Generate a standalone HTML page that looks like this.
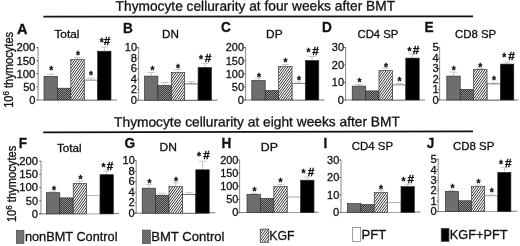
<!DOCTYPE html>
<html><head><meta charset="utf-8"><title>Thymocyte cellularity after BMT</title>
<style>
html,body{margin:0;padding:0;background:#fff;}
body{width:520px;height:246px;overflow:hidden;}
svg{display:block;font-family:"Liberation Sans", Arial, sans-serif;}
text{stroke:#111;stroke-width:0.3px;}
</style></head><body>
<svg width="520" height="246" viewBox="0 0 520 246">
<defs>
<pattern id="xh2" width="2" height="2" patternUnits="userSpaceOnUse">
<rect width="2" height="2" fill="#5a5a5a"/><rect width="1" height="1" fill="#7e7e7e"/><rect x="1" y="1" width="1" height="1" fill="#7e7e7e"/>
</pattern>
<pattern id="xh" width="2" height="2" patternUnits="userSpaceOnUse">
<rect width="2" height="2" fill="#3c3c3c"/><rect width="1" height="1" fill="#8a8a8a"/><rect x="1" y="1" width="1" height="1" fill="#8a8a8a"/>
</pattern>
</defs>
<rect width="520" height="246" fill="#fff"/>

<text x="115.60" y="10.80" font-size="13.8" text-anchor="start" font-weight="normal" fill="#111" textLength="279.50" lengthAdjust="spacingAndGlyphs" transform="rotate(-0.08 115.3 10.8)">Thymocyte cellurarity at four weeks after BMT</text>
<line x1="43.40" y1="16.60" x2="473.00" y2="16.30" stroke="#111" stroke-width="1.8"/>
<text x="114.10" y="126.70" font-size="13.7" text-anchor="start" font-weight="normal" fill="#111" textLength="285.80" lengthAdjust="spacingAndGlyphs" transform="rotate(-0.1 114.1 126.7)">Thymocyte cellurarity at eight weeks after BMT</text>
<line x1="43.20" y1="132.30" x2="473.00" y2="131.40" stroke="#111" stroke-width="1.8"/>
<text transform="translate(12.70,107.80) rotate(-90) scale(0.9250,1)" font-size="12" fill="#111">10<tspan font-size="8.6" dy="-3.6">6</tspan><tspan dy="3.6"> thymocytes</tspan></text>
<text transform="translate(16.00,222.10) rotate(-90) scale(0.9300,1)" font-size="12" fill="#111">10<tspan font-size="8.6" dy="-3.6">6</tspan><tspan dy="3.6"> thymocytes</tspan></text>
<text x="17.00" y="33.50" font-size="14.5" text-anchor="start" font-weight="bold" fill="#111" textLength="10.47" lengthAdjust="spacingAndGlyphs">A</text>
<text x="54.40" y="38.20" font-size="11.2" text-anchor="start" font-weight="normal" fill="#111" textLength="25.00" lengthAdjust="spacingAndGlyphs">Total</text>
<line x1="38.10" y1="47.10" x2="38.10" y2="100.00" stroke="#929292" stroke-width="1.1"/>
<line x1="37.00" y1="100.00" x2="117.00" y2="100.00" stroke="#7a7a7a" stroke-width="1"/>
<line x1="90.90" y1="80.10" x2="90.90" y2="78.10" stroke="#b8b8b8" stroke-width="0.75"/>
<line x1="87.30" y1="78.10" x2="94.50" y2="78.10" stroke="#b8b8b8" stroke-width="0.75"/>
<rect x="84.20" y="80.10" width="13.40" height="19.90" fill="#fff" stroke="#555" stroke-width="0.7"/>
<line x1="50.70" y1="76.40" x2="50.70" y2="74.10" stroke="#b8b8b8" stroke-width="0.75"/>
<line x1="47.10" y1="74.10" x2="54.30" y2="74.10" stroke="#b8b8b8" stroke-width="0.75"/>
<rect x="44.00" y="76.40" width="13.40" height="23.60" fill="#6e6e6e" stroke="#2b2b2b" stroke-width="0.65"/>
<rect x="57.40" y="88.20" width="13.40" height="11.80" fill="url(#xh)" stroke="#2b2b2b" stroke-width="0.65"/>
<line x1="77.50" y1="59.60" x2="77.50" y2="57.50" stroke="#b8b8b8" stroke-width="0.75"/>
<line x1="73.90" y1="57.50" x2="81.10" y2="57.50" stroke="#b8b8b8" stroke-width="0.75"/>
<clipPath id="c1"><rect x="70.80" y="59.60" width="13.40" height="40.40"/></clipPath>
<rect x="70.80" y="59.60" width="13.40" height="40.40" fill="#fff"/>
<path d="M38.40 100.00L67.75 59.60M40.80 100.00L70.15 59.60M43.20 100.00L72.55 59.60M45.60 100.00L74.95 59.60M48.00 100.00L77.35 59.60M50.40 100.00L79.75 59.60M52.80 100.00L82.15 59.60M55.20 100.00L84.55 59.60M57.60 100.00L86.95 59.60M60.00 100.00L89.35 59.60M62.40 100.00L91.75 59.60M64.80 100.00L94.15 59.60M67.20 100.00L96.55 59.60M69.60 100.00L98.95 59.60M72.00 100.00L101.35 59.60M74.40 100.00L103.75 59.60M76.80 100.00L106.15 59.60M79.20 100.00L108.55 59.60M81.60 100.00L110.95 59.60M84.00 100.00L113.35 59.60M86.40 100.00L115.75 59.60" stroke="#2a2a2a" stroke-width="0.95" fill="none" clip-path="url(#c1)"/>
<rect x="70.80" y="59.60" width="13.40" height="40.40" fill="none" stroke="#2b2b2b" stroke-width="0.65"/>
<line x1="104.30" y1="51.20" x2="104.30" y2="47.20" stroke="#b8b8b8" stroke-width="0.75"/>
<line x1="100.70" y1="47.20" x2="107.90" y2="47.20" stroke="#b8b8b8" stroke-width="0.75"/>
<rect x="97.60" y="51.20" width="13.40" height="48.80" fill="#000" stroke="#2b2b2b" stroke-width="0.65"/>
<line x1="36.40" y1="100.00" x2="38.10" y2="100.00" stroke="#555" stroke-width="0.9"/>
<text x="35.40" y="103.80" font-size="11.8" text-anchor="end" font-weight="normal" fill="#111" textLength="6.20" lengthAdjust="spacingAndGlyphs">0</text>
<line x1="36.40" y1="86.90" x2="38.10" y2="86.90" stroke="#555" stroke-width="0.9"/>
<text x="35.40" y="90.70" font-size="11.8" text-anchor="end" font-weight="normal" fill="#111" textLength="12.20" lengthAdjust="spacingAndGlyphs">50</text>
<line x1="36.40" y1="73.80" x2="38.10" y2="73.80" stroke="#555" stroke-width="0.9"/>
<text x="35.40" y="77.60" font-size="11.8" text-anchor="end" font-weight="normal" fill="#111" textLength="19.00" lengthAdjust="spacingAndGlyphs">100</text>
<line x1="36.40" y1="60.70" x2="38.10" y2="60.70" stroke="#555" stroke-width="0.9"/>
<text x="35.40" y="64.50" font-size="11.8" text-anchor="end" font-weight="normal" fill="#111" textLength="19.00" lengthAdjust="spacingAndGlyphs">150</text>
<line x1="36.40" y1="47.60" x2="38.10" y2="47.60" stroke="#555" stroke-width="0.9"/>
<text x="35.40" y="51.40" font-size="11.8" text-anchor="end" font-weight="normal" fill="#111" textLength="19.00" lengthAdjust="spacingAndGlyphs">200</text>
<text x="51.20" y="74.30" font-size="10.2" text-anchor="middle" font-weight="bold" fill="#111">*</text>
<text x="78.00" y="59.00" font-size="10.2" text-anchor="middle" font-weight="bold" fill="#111">*</text>
<text x="91.00" y="79.10" font-size="10.2" text-anchor="middle" font-weight="bold" fill="#111">*</text>
<text x="101.80" y="45.90" font-size="10.2" text-anchor="middle" font-weight="bold" fill="#111">*</text>
<text x="107.00" y="45.01" font-size="11.8" text-anchor="middle" font-weight="bold" fill="#111">#</text>
<text x="122.90" y="32.90" font-size="14.5" text-anchor="start" font-weight="bold" fill="#111" textLength="9.84" lengthAdjust="spacingAndGlyphs">B</text>
<text x="162.10" y="38.20" font-size="11.2" text-anchor="start" font-weight="normal" fill="#111" textLength="16.90" lengthAdjust="spacingAndGlyphs">DN</text>
<line x1="138.60" y1="47.10" x2="138.60" y2="100.20" stroke="#929292" stroke-width="1.1"/>
<line x1="137.60" y1="100.20" x2="217.60" y2="100.20" stroke="#7a7a7a" stroke-width="1"/>
<line x1="191.40" y1="83.90" x2="191.40" y2="81.70" stroke="#b8b8b8" stroke-width="0.75"/>
<line x1="187.80" y1="81.70" x2="195.00" y2="81.70" stroke="#b8b8b8" stroke-width="0.75"/>
<rect x="184.70" y="83.90" width="13.40" height="16.30" fill="#fff" stroke="#333" stroke-width="0.7"/>
<line x1="151.20" y1="76.10" x2="151.20" y2="72.50" stroke="#b8b8b8" stroke-width="0.75"/>
<line x1="147.60" y1="72.50" x2="154.80" y2="72.50" stroke="#b8b8b8" stroke-width="0.75"/>
<rect x="144.50" y="76.10" width="13.40" height="24.10" fill="#6e6e6e" stroke="#2b2b2b" stroke-width="0.65"/>
<line x1="164.60" y1="85.50" x2="164.60" y2="82.50" stroke="#b8b8b8" stroke-width="0.75"/>
<line x1="161.00" y1="82.50" x2="168.20" y2="82.50" stroke="#b8b8b8" stroke-width="0.75"/>
<rect x="157.90" y="85.50" width="13.40" height="14.70" fill="url(#xh)" stroke="#2b2b2b" stroke-width="0.65"/>
<line x1="178.00" y1="72.50" x2="178.00" y2="69.50" stroke="#b8b8b8" stroke-width="0.75"/>
<line x1="174.40" y1="69.50" x2="181.60" y2="69.50" stroke="#b8b8b8" stroke-width="0.75"/>
<clipPath id="c2"><rect x="171.30" y="72.50" width="13.40" height="27.70"/></clipPath>
<rect x="171.30" y="72.50" width="13.40" height="27.70" fill="#fff"/>
<path d="M146.40 100.20L166.53 72.50M148.80 100.20L168.93 72.50M151.20 100.20L171.33 72.50M153.60 100.20L173.73 72.50M156.00 100.20L176.13 72.50M158.40 100.20L178.53 72.50M160.80 100.20L180.93 72.50M163.20 100.20L183.33 72.50M165.60 100.20L185.73 72.50M168.00 100.20L188.13 72.50M170.40 100.20L190.53 72.50M172.80 100.20L192.93 72.50M175.20 100.20L195.33 72.50M177.60 100.20L197.73 72.50M180.00 100.20L200.13 72.50M182.40 100.20L202.53 72.50M184.80 100.20L204.93 72.50" stroke="#2a2a2a" stroke-width="0.95" fill="none" clip-path="url(#c2)"/>
<rect x="171.30" y="72.50" width="13.40" height="27.70" fill="none" stroke="#2b2b2b" stroke-width="0.65"/>
<line x1="204.80" y1="67.50" x2="204.80" y2="63.50" stroke="#b8b8b8" stroke-width="0.75"/>
<line x1="201.20" y1="63.50" x2="208.40" y2="63.50" stroke="#b8b8b8" stroke-width="0.75"/>
<rect x="198.10" y="67.50" width="13.40" height="32.70" fill="#000" stroke="#2b2b2b" stroke-width="0.65"/>
<line x1="136.90" y1="100.20" x2="138.60" y2="100.20" stroke="#555" stroke-width="0.9"/>
<text x="137.00" y="104.00" font-size="11.8" text-anchor="end" font-weight="normal" fill="#111" textLength="6.20" lengthAdjust="spacingAndGlyphs">0</text>
<line x1="136.90" y1="89.68" x2="138.60" y2="89.68" stroke="#555" stroke-width="0.9"/>
<text x="137.00" y="93.48" font-size="11.8" text-anchor="end" font-weight="normal" fill="#111" textLength="6.20" lengthAdjust="spacingAndGlyphs">2</text>
<line x1="136.90" y1="79.16" x2="138.60" y2="79.16" stroke="#555" stroke-width="0.9"/>
<text x="137.00" y="82.96" font-size="11.8" text-anchor="end" font-weight="normal" fill="#111" textLength="6.20" lengthAdjust="spacingAndGlyphs">4</text>
<line x1="136.90" y1="68.64" x2="138.60" y2="68.64" stroke="#555" stroke-width="0.9"/>
<text x="137.00" y="72.44" font-size="11.8" text-anchor="end" font-weight="normal" fill="#111" textLength="6.20" lengthAdjust="spacingAndGlyphs">6</text>
<line x1="136.90" y1="58.12" x2="138.60" y2="58.12" stroke="#555" stroke-width="0.9"/>
<text x="137.00" y="61.92" font-size="11.8" text-anchor="end" font-weight="normal" fill="#111" textLength="6.20" lengthAdjust="spacingAndGlyphs">8</text>
<line x1="136.90" y1="47.60" x2="138.60" y2="47.60" stroke="#555" stroke-width="0.9"/>
<text x="137.00" y="51.40" font-size="11.8" text-anchor="end" font-weight="normal" fill="#111" textLength="12.20" lengthAdjust="spacingAndGlyphs">10</text>
<text x="152.60" y="74.10" font-size="10.2" text-anchor="middle" font-weight="bold" fill="#111">*</text>
<text x="178.00" y="71.50" font-size="10.2" text-anchor="middle" font-weight="bold" fill="#111">*</text>
<text x="201.00" y="63.10" font-size="10.2" text-anchor="middle" font-weight="bold" fill="#111">*</text>
<text x="208.00" y="62.01" font-size="11.8" text-anchor="middle" font-weight="bold" fill="#111">#</text>
<text x="221.00" y="31.90" font-size="14.5" text-anchor="start" font-weight="bold" fill="#111" textLength="9.84" lengthAdjust="spacingAndGlyphs">C</text>
<text x="266.10" y="38.20" font-size="11.2" text-anchor="start" font-weight="normal" fill="#111" textLength="16.60" lengthAdjust="spacingAndGlyphs">DP</text>
<line x1="245.60" y1="47.10" x2="245.60" y2="100.00" stroke="#929292" stroke-width="1.1"/>
<line x1="244.40" y1="100.00" x2="324.40" y2="100.00" stroke="#7a7a7a" stroke-width="1"/>
<line x1="298.70" y1="83.50" x2="298.70" y2="82.10" stroke="#b8b8b8" stroke-width="0.75"/>
<line x1="295.10" y1="82.10" x2="302.30" y2="82.10" stroke="#b8b8b8" stroke-width="0.75"/>
<rect x="292.00" y="83.50" width="13.40" height="16.50" fill="#fff" stroke="#555" stroke-width="0.7"/>
<line x1="258.50" y1="80.50" x2="258.50" y2="78.10" stroke="#b8b8b8" stroke-width="0.75"/>
<line x1="254.90" y1="78.10" x2="262.10" y2="78.10" stroke="#b8b8b8" stroke-width="0.75"/>
<rect x="251.80" y="80.50" width="13.40" height="19.50" fill="#6e6e6e" stroke="#2b2b2b" stroke-width="0.65"/>
<rect x="265.20" y="90.50" width="13.40" height="9.50" fill="url(#xh)" stroke="#2b2b2b" stroke-width="0.65"/>
<line x1="285.30" y1="66.50" x2="285.30" y2="64.50" stroke="#b8b8b8" stroke-width="0.75"/>
<line x1="281.70" y1="64.50" x2="288.90" y2="64.50" stroke="#b8b8b8" stroke-width="0.75"/>
<clipPath id="c3"><rect x="278.60" y="66.50" width="13.40" height="33.50"/></clipPath>
<rect x="278.60" y="66.50" width="13.40" height="33.50" fill="#fff"/>
<path d="M249.60 100.00L273.94 66.50M252.00 100.00L276.34 66.50M254.40 100.00L278.74 66.50M256.80 100.00L281.14 66.50M259.20 100.00L283.54 66.50M261.60 100.00L285.94 66.50M264.00 100.00L288.34 66.50M266.40 100.00L290.74 66.50M268.80 100.00L293.14 66.50M271.20 100.00L295.54 66.50M273.60 100.00L297.94 66.50M276.00 100.00L300.34 66.50M278.40 100.00L302.74 66.50M280.80 100.00L305.14 66.50M283.20 100.00L307.54 66.50M285.60 100.00L309.94 66.50M288.00 100.00L312.34 66.50M290.40 100.00L314.74 66.50M292.80 100.00L317.14 66.50" stroke="#2a2a2a" stroke-width="0.95" fill="none" clip-path="url(#c3)"/>
<rect x="278.60" y="66.50" width="13.40" height="33.50" fill="none" stroke="#2b2b2b" stroke-width="0.65"/>
<line x1="312.10" y1="60.50" x2="312.10" y2="56.50" stroke="#b8b8b8" stroke-width="0.75"/>
<line x1="308.50" y1="56.50" x2="315.70" y2="56.50" stroke="#b8b8b8" stroke-width="0.75"/>
<rect x="305.40" y="60.50" width="13.40" height="39.50" fill="#000" stroke="#2b2b2b" stroke-width="0.65"/>
<line x1="243.90" y1="100.00" x2="245.60" y2="100.00" stroke="#555" stroke-width="0.9"/>
<text x="244.00" y="103.80" font-size="11.8" text-anchor="end" font-weight="normal" fill="#111" textLength="6.20" lengthAdjust="spacingAndGlyphs">0</text>
<line x1="243.90" y1="86.90" x2="245.60" y2="86.90" stroke="#555" stroke-width="0.9"/>
<text x="244.00" y="90.70" font-size="11.8" text-anchor="end" font-weight="normal" fill="#111" textLength="12.20" lengthAdjust="spacingAndGlyphs">50</text>
<line x1="243.90" y1="73.80" x2="245.60" y2="73.80" stroke="#555" stroke-width="0.9"/>
<text x="244.00" y="77.60" font-size="11.8" text-anchor="end" font-weight="normal" fill="#111" textLength="18.20" lengthAdjust="spacingAndGlyphs">100</text>
<line x1="243.90" y1="60.70" x2="245.60" y2="60.70" stroke="#555" stroke-width="0.9"/>
<text x="244.00" y="64.50" font-size="11.8" text-anchor="end" font-weight="normal" fill="#111" textLength="18.20" lengthAdjust="spacingAndGlyphs">150</text>
<line x1="243.90" y1="47.60" x2="245.60" y2="47.60" stroke="#555" stroke-width="0.9"/>
<text x="244.00" y="51.40" font-size="11.8" text-anchor="end" font-weight="normal" fill="#111" textLength="18.20" lengthAdjust="spacingAndGlyphs">200</text>
<text x="259.00" y="81.10" font-size="10.2" text-anchor="middle" font-weight="bold" fill="#111">*</text>
<text x="285.60" y="66.30" font-size="10.2" text-anchor="middle" font-weight="bold" fill="#111">*</text>
<text x="299.00" y="84.10" font-size="10.2" text-anchor="middle" font-weight="bold" fill="#111">*</text>
<text x="308.60" y="56.10" font-size="10.2" text-anchor="middle" font-weight="bold" fill="#111">*</text>
<text x="315.60" y="55.01" font-size="11.8" text-anchor="middle" font-weight="bold" fill="#111">#</text>
<text x="322.10" y="31.80" font-size="14.5" text-anchor="start" font-weight="bold" fill="#111" textLength="9.84" lengthAdjust="spacingAndGlyphs">D</text>
<text x="357.50" y="38.00" font-size="11.2" text-anchor="start" font-weight="normal" fill="#111" textLength="40.90" lengthAdjust="spacingAndGlyphs">CD4 SP</text>
<line x1="345.60" y1="47.10" x2="345.60" y2="100.00" stroke="#929292" stroke-width="1.1"/>
<line x1="345.00" y1="100.00" x2="425.00" y2="100.00" stroke="#7a7a7a" stroke-width="1"/>
<line x1="399.10" y1="84.90" x2="399.10" y2="83.50" stroke="#b8b8b8" stroke-width="0.75"/>
<line x1="395.50" y1="83.50" x2="402.70" y2="83.50" stroke="#b8b8b8" stroke-width="0.75"/>
<rect x="392.40" y="84.90" width="13.40" height="15.10" fill="#fff" stroke="#555" stroke-width="0.7"/>
<line x1="358.90" y1="86.10" x2="358.90" y2="84.50" stroke="#b8b8b8" stroke-width="0.75"/>
<line x1="355.30" y1="84.50" x2="362.50" y2="84.50" stroke="#b8b8b8" stroke-width="0.75"/>
<rect x="352.20" y="86.10" width="13.40" height="13.90" fill="#6e6e6e" stroke="#2b2b2b" stroke-width="0.65"/>
<rect x="365.60" y="90.90" width="13.40" height="9.10" fill="url(#xh)" stroke="#2b2b2b" stroke-width="0.65"/>
<line x1="385.70" y1="70.50" x2="385.70" y2="68.10" stroke="#b8b8b8" stroke-width="0.75"/>
<line x1="382.10" y1="68.10" x2="389.30" y2="68.10" stroke="#b8b8b8" stroke-width="0.75"/>
<clipPath id="c4"><rect x="379.00" y="70.50" width="13.40" height="29.50"/></clipPath>
<rect x="379.00" y="70.50" width="13.40" height="29.50" fill="#fff"/>
<path d="M352.80 100.00L374.23 70.50M355.20 100.00L376.63 70.50M357.60 100.00L379.03 70.50M360.00 100.00L381.43 70.50M362.40 100.00L383.83 70.50M364.80 100.00L386.23 70.50M367.20 100.00L388.63 70.50M369.60 100.00L391.03 70.50M372.00 100.00L393.43 70.50M374.40 100.00L395.83 70.50M376.80 100.00L398.23 70.50M379.20 100.00L400.63 70.50M381.60 100.00L403.03 70.50M384.00 100.00L405.43 70.50M386.40 100.00L407.83 70.50M388.80 100.00L410.23 70.50M391.20 100.00L412.63 70.50M393.60 100.00L415.03 70.50" stroke="#2a2a2a" stroke-width="0.95" fill="none" clip-path="url(#c4)"/>
<rect x="379.00" y="70.50" width="13.40" height="29.50" fill="none" stroke="#2b2b2b" stroke-width="0.65"/>
<line x1="412.50" y1="58.10" x2="412.50" y2="54.10" stroke="#b8b8b8" stroke-width="0.75"/>
<line x1="408.90" y1="54.10" x2="416.10" y2="54.10" stroke="#b8b8b8" stroke-width="0.75"/>
<rect x="405.80" y="58.10" width="13.40" height="41.90" fill="#000" stroke="#2b2b2b" stroke-width="0.65"/>
<line x1="343.90" y1="100.00" x2="345.60" y2="100.00" stroke="#555" stroke-width="0.9"/>
<text x="344.00" y="103.80" font-size="11.8" text-anchor="end" font-weight="normal" fill="#111" textLength="6.20" lengthAdjust="spacingAndGlyphs">0</text>
<line x1="343.90" y1="82.53" x2="345.60" y2="82.53" stroke="#555" stroke-width="0.9"/>
<text x="344.00" y="86.33" font-size="11.8" text-anchor="end" font-weight="normal" fill="#111" textLength="12.20" lengthAdjust="spacingAndGlyphs">10</text>
<line x1="343.90" y1="65.07" x2="345.60" y2="65.07" stroke="#555" stroke-width="0.9"/>
<text x="344.00" y="68.87" font-size="11.8" text-anchor="end" font-weight="normal" fill="#111" textLength="12.20" lengthAdjust="spacingAndGlyphs">20</text>
<line x1="343.90" y1="47.60" x2="345.60" y2="47.60" stroke="#555" stroke-width="0.9"/>
<text x="344.00" y="51.40" font-size="11.8" text-anchor="end" font-weight="normal" fill="#111" textLength="12.20" lengthAdjust="spacingAndGlyphs">30</text>
<text x="359.60" y="86.10" font-size="10.2" text-anchor="middle" font-weight="bold" fill="#111">*</text>
<text x="386.00" y="71.10" font-size="10.2" text-anchor="middle" font-weight="bold" fill="#111">*</text>
<text x="399.60" y="85.10" font-size="10.2" text-anchor="middle" font-weight="bold" fill="#111">*</text>
<text x="409.40" y="54.80" font-size="10.2" text-anchor="middle" font-weight="bold" fill="#111">*</text>
<text x="416.00" y="53.51" font-size="11.8" text-anchor="middle" font-weight="bold" fill="#111">#</text>
<text x="424.40" y="32.00" font-size="14.5" text-anchor="start" font-weight="bold" fill="#111" textLength="9.09" lengthAdjust="spacingAndGlyphs">E</text>
<text x="454.90" y="37.70" font-size="11.2" text-anchor="start" font-weight="normal" fill="#111" textLength="41.30" lengthAdjust="spacingAndGlyphs">CD8 SP</text>
<line x1="439.60" y1="47.10" x2="439.60" y2="100.00" stroke="#929292" stroke-width="1.1"/>
<line x1="438.40" y1="100.00" x2="518.40" y2="100.00" stroke="#7a7a7a" stroke-width="1"/>
<line x1="493.70" y1="83.90" x2="493.70" y2="83.10" stroke="#b8b8b8" stroke-width="0.75"/>
<line x1="490.10" y1="83.10" x2="497.30" y2="83.10" stroke="#b8b8b8" stroke-width="0.75"/>
<rect x="487.00" y="83.90" width="13.40" height="16.10" fill="#fff" stroke="#444" stroke-width="0.7"/>
<line x1="453.50" y1="76.10" x2="453.50" y2="72.10" stroke="#b8b8b8" stroke-width="0.75"/>
<line x1="449.90" y1="72.10" x2="457.10" y2="72.10" stroke="#b8b8b8" stroke-width="0.75"/>
<rect x="446.80" y="76.10" width="13.40" height="23.90" fill="#6e6e6e" stroke="#2b2b2b" stroke-width="0.65"/>
<rect x="460.20" y="89.50" width="13.40" height="10.50" fill="url(#xh)" stroke="#2b2b2b" stroke-width="0.65"/>
<line x1="480.30" y1="69.50" x2="480.30" y2="68.50" stroke="#b8b8b8" stroke-width="0.75"/>
<line x1="476.70" y1="68.50" x2="483.90" y2="68.50" stroke="#b8b8b8" stroke-width="0.75"/>
<clipPath id="c5"><rect x="473.60" y="69.50" width="13.40" height="30.50"/></clipPath>
<rect x="473.60" y="69.50" width="13.40" height="30.50" fill="#fff"/>
<path d="M448.80 100.00L470.96 69.50M451.20 100.00L473.36 69.50M453.60 100.00L475.76 69.50M456.00 100.00L478.16 69.50M458.40 100.00L480.56 69.50M460.80 100.00L482.96 69.50M463.20 100.00L485.36 69.50M465.60 100.00L487.76 69.50M468.00 100.00L490.16 69.50M470.40 100.00L492.56 69.50M472.80 100.00L494.96 69.50M475.20 100.00L497.36 69.50M477.60 100.00L499.76 69.50M480.00 100.00L502.16 69.50M482.40 100.00L504.56 69.50M484.80 100.00L506.96 69.50M487.20 100.00L509.36 69.50" stroke="#2a2a2a" stroke-width="0.95" fill="none" clip-path="url(#c5)"/>
<rect x="473.60" y="69.50" width="13.40" height="30.50" fill="none" stroke="#2b2b2b" stroke-width="0.65"/>
<line x1="507.10" y1="64.10" x2="507.10" y2="62.10" stroke="#b8b8b8" stroke-width="0.75"/>
<line x1="503.50" y1="62.10" x2="510.70" y2="62.10" stroke="#b8b8b8" stroke-width="0.75"/>
<rect x="500.40" y="64.10" width="13.40" height="35.90" fill="#000" stroke="#2b2b2b" stroke-width="0.65"/>
<line x1="437.90" y1="100.00" x2="439.60" y2="100.00" stroke="#555" stroke-width="0.9"/>
<text x="438.70" y="103.80" font-size="11.8" text-anchor="end" font-weight="normal" fill="#111" textLength="6.20" lengthAdjust="spacingAndGlyphs">0</text>
<line x1="437.90" y1="89.52" x2="439.60" y2="89.52" stroke="#555" stroke-width="0.9"/>
<text x="438.70" y="93.32" font-size="11.8" text-anchor="end" font-weight="normal" fill="#111" textLength="6.20" lengthAdjust="spacingAndGlyphs">1</text>
<line x1="437.90" y1="79.04" x2="439.60" y2="79.04" stroke="#555" stroke-width="0.9"/>
<text x="438.70" y="82.84" font-size="11.8" text-anchor="end" font-weight="normal" fill="#111" textLength="6.20" lengthAdjust="spacingAndGlyphs">2</text>
<line x1="437.90" y1="68.56" x2="439.60" y2="68.56" stroke="#555" stroke-width="0.9"/>
<text x="438.70" y="72.36" font-size="11.8" text-anchor="end" font-weight="normal" fill="#111" textLength="6.20" lengthAdjust="spacingAndGlyphs">3</text>
<line x1="437.90" y1="58.08" x2="439.60" y2="58.08" stroke="#555" stroke-width="0.9"/>
<text x="438.70" y="61.88" font-size="11.8" text-anchor="end" font-weight="normal" fill="#111" textLength="6.20" lengthAdjust="spacingAndGlyphs">4</text>
<line x1="437.90" y1="47.60" x2="439.60" y2="47.60" stroke="#555" stroke-width="0.9"/>
<text x="438.70" y="51.40" font-size="11.8" text-anchor="end" font-weight="normal" fill="#111" textLength="6.20" lengthAdjust="spacingAndGlyphs">5</text>
<text x="453.80" y="74.40" font-size="10.2" text-anchor="middle" font-weight="bold" fill="#111">*</text>
<text x="480.20" y="71.10" font-size="10.2" text-anchor="middle" font-weight="bold" fill="#111">*</text>
<text x="494.00" y="84.40" font-size="10.2" text-anchor="middle" font-weight="bold" fill="#111">*</text>
<text x="504.20" y="61.10" font-size="10.2" text-anchor="middle" font-weight="bold" fill="#111">*</text>
<text x="511.60" y="60.01" font-size="11.8" text-anchor="middle" font-weight="bold" fill="#111">#</text>
<text x="18.80" y="147.70" font-size="14.5" text-anchor="start" font-weight="bold" fill="#111" textLength="8.33" lengthAdjust="spacingAndGlyphs">F</text>
<text x="56.90" y="151.60" font-size="11.2" text-anchor="start" font-weight="normal" fill="#111" textLength="24.70" lengthAdjust="spacingAndGlyphs">Total</text>
<line x1="41.00" y1="160.70" x2="41.00" y2="213.90" stroke="#929292" stroke-width="1.1"/>
<line x1="39.00" y1="213.90" x2="119.00" y2="213.50" stroke="#7a7a7a" stroke-width="1"/>
<rect x="86.60" y="195.70" width="13.40" height="18.20" fill="#fff" stroke="#999" stroke-width="0.7"/>
<line x1="53.10" y1="192.70" x2="53.10" y2="191.70" stroke="#b8b8b8" stroke-width="0.75"/>
<line x1="49.50" y1="191.70" x2="56.70" y2="191.70" stroke="#b8b8b8" stroke-width="0.75"/>
<rect x="46.40" y="192.70" width="13.40" height="21.20" fill="#6e6e6e" stroke="#2b2b2b" stroke-width="0.65"/>
<rect x="59.80" y="197.90" width="13.40" height="16.00" fill="url(#xh)" stroke="#2b2b2b" stroke-width="0.65"/>
<line x1="79.90" y1="183.30" x2="79.90" y2="180.90" stroke="#b8b8b8" stroke-width="0.75"/>
<line x1="76.30" y1="180.90" x2="83.50" y2="180.90" stroke="#b8b8b8" stroke-width="0.75"/>
<clipPath id="c6"><rect x="73.20" y="183.30" width="13.40" height="30.60"/></clipPath>
<rect x="73.20" y="183.30" width="13.40" height="30.60" fill="#fff"/>
<path d="M48.00 213.90L70.23 183.30M50.40 213.90L72.63 183.30M52.80 213.90L75.03 183.30M55.20 213.90L77.43 183.30M57.60 213.90L79.83 183.30M60.00 213.90L82.23 183.30M62.40 213.90L84.63 183.30M64.80 213.90L87.03 183.30M67.20 213.90L89.43 183.30M69.60 213.90L91.83 183.30M72.00 213.90L94.23 183.30M74.40 213.90L96.63 183.30M76.80 213.90L99.03 183.30M79.20 213.90L101.43 183.30M81.60 213.90L103.83 183.30M84.00 213.90L106.23 183.30M86.40 213.90L108.63 183.30M88.80 213.90L111.03 183.30" stroke="#2a2a2a" stroke-width="0.95" fill="none" clip-path="url(#c6)"/>
<rect x="73.20" y="183.30" width="13.40" height="30.60" fill="none" stroke="#2b2b2b" stroke-width="0.65"/>
<line x1="106.70" y1="174.70" x2="106.70" y2="170.90" stroke="#b8b8b8" stroke-width="0.75"/>
<line x1="103.10" y1="170.90" x2="110.30" y2="170.90" stroke="#b8b8b8" stroke-width="0.75"/>
<rect x="100.00" y="174.70" width="13.40" height="39.20" fill="#000" stroke="#2b2b2b" stroke-width="0.65"/>
<line x1="39.30" y1="213.90" x2="41.00" y2="213.90" stroke="#555" stroke-width="0.9"/>
<text x="38.00" y="217.70" font-size="11.8" text-anchor="end" font-weight="normal" fill="#111" textLength="6.20" lengthAdjust="spacingAndGlyphs">0</text>
<line x1="39.30" y1="200.72" x2="41.00" y2="200.72" stroke="#555" stroke-width="0.9"/>
<text x="38.00" y="204.53" font-size="11.8" text-anchor="end" font-weight="normal" fill="#111" textLength="12.20" lengthAdjust="spacingAndGlyphs">50</text>
<line x1="39.30" y1="187.55" x2="41.00" y2="187.55" stroke="#555" stroke-width="0.9"/>
<text x="38.00" y="191.35" font-size="11.8" text-anchor="end" font-weight="normal" fill="#111" textLength="18.80" lengthAdjust="spacingAndGlyphs">100</text>
<line x1="39.30" y1="174.38" x2="41.00" y2="174.38" stroke="#555" stroke-width="0.9"/>
<text x="38.00" y="178.18" font-size="11.8" text-anchor="end" font-weight="normal" fill="#111" textLength="18.80" lengthAdjust="spacingAndGlyphs">150</text>
<line x1="39.30" y1="161.20" x2="41.00" y2="161.20" stroke="#555" stroke-width="0.9"/>
<text x="38.00" y="165.00" font-size="11.8" text-anchor="end" font-weight="normal" fill="#111" textLength="18.80" lengthAdjust="spacingAndGlyphs">200</text>
<text x="54.00" y="193.50" font-size="10.2" text-anchor="middle" font-weight="bold" fill="#111">*</text>
<text x="80.60" y="183.40" font-size="10.2" text-anchor="middle" font-weight="bold" fill="#111">*</text>
<text x="103.60" y="170.70" font-size="10.2" text-anchor="middle" font-weight="bold" fill="#111">*</text>
<text x="110.00" y="169.61" font-size="11.8" text-anchor="middle" font-weight="bold" fill="#111">#</text>
<text x="124.60" y="148.00" font-size="14.5" text-anchor="start" font-weight="bold" fill="#111" textLength="10.60" lengthAdjust="spacingAndGlyphs">G</text>
<text x="159.50" y="151.00" font-size="11.2" text-anchor="start" font-weight="normal" fill="#111" textLength="17.40" lengthAdjust="spacingAndGlyphs">DN</text>
<line x1="136.20" y1="160.10" x2="136.20" y2="213.20" stroke="#929292" stroke-width="1.1"/>
<line x1="135.20" y1="213.20" x2="215.20" y2="212.80" stroke="#7a7a7a" stroke-width="1"/>
<line x1="189.10" y1="194.60" x2="189.10" y2="192.60" stroke="#b8b8b8" stroke-width="0.75"/>
<line x1="185.50" y1="192.60" x2="192.70" y2="192.60" stroke="#b8b8b8" stroke-width="0.75"/>
<rect x="182.40" y="194.60" width="13.40" height="18.60" fill="#fff" stroke="#333" stroke-width="0.7"/>
<line x1="148.90" y1="188.20" x2="148.90" y2="184.60" stroke="#b8b8b8" stroke-width="0.75"/>
<line x1="145.30" y1="184.60" x2="152.50" y2="184.60" stroke="#b8b8b8" stroke-width="0.75"/>
<rect x="142.20" y="188.20" width="13.40" height="25.00" fill="#6e6e6e" stroke="#2b2b2b" stroke-width="0.65"/>
<line x1="162.30" y1="195.20" x2="162.30" y2="193.20" stroke="#b8b8b8" stroke-width="0.75"/>
<line x1="158.70" y1="193.20" x2="165.90" y2="193.20" stroke="#b8b8b8" stroke-width="0.75"/>
<rect x="155.60" y="195.20" width="13.40" height="18.00" fill="url(#xh)" stroke="#2b2b2b" stroke-width="0.65"/>
<line x1="175.70" y1="186.60" x2="175.70" y2="182.60" stroke="#b8b8b8" stroke-width="0.75"/>
<line x1="172.10" y1="182.60" x2="179.30" y2="182.60" stroke="#b8b8b8" stroke-width="0.75"/>
<clipPath id="c7"><rect x="169.00" y="186.60" width="13.40" height="26.60"/></clipPath>
<rect x="169.00" y="186.60" width="13.40" height="26.60" fill="#fff"/>
<path d="M146.40 213.20L165.73 186.60M148.80 213.20L168.13 186.60M151.20 213.20L170.53 186.60M153.60 213.20L172.93 186.60M156.00 213.20L175.33 186.60M158.40 213.20L177.73 186.60M160.80 213.20L180.13 186.60M163.20 213.20L182.53 186.60M165.60 213.20L184.93 186.60M168.00 213.20L187.33 186.60M170.40 213.20L189.73 186.60M172.80 213.20L192.13 186.60M175.20 213.20L194.53 186.60M177.60 213.20L196.93 186.60M180.00 213.20L199.33 186.60M182.40 213.20L201.73 186.60" stroke="#2a2a2a" stroke-width="0.95" fill="none" clip-path="url(#c7)"/>
<rect x="169.00" y="186.60" width="13.40" height="26.60" fill="none" stroke="#2b2b2b" stroke-width="0.65"/>
<line x1="202.50" y1="169.80" x2="202.50" y2="161.20" stroke="#b8b8b8" stroke-width="0.75"/>
<line x1="198.90" y1="161.20" x2="206.10" y2="161.20" stroke="#b8b8b8" stroke-width="0.75"/>
<rect x="195.80" y="169.80" width="13.40" height="43.40" fill="#000" stroke="#2b2b2b" stroke-width="0.65"/>
<line x1="134.50" y1="213.20" x2="136.20" y2="213.20" stroke="#555" stroke-width="0.9"/>
<text x="134.80" y="217.00" font-size="11.8" text-anchor="end" font-weight="normal" fill="#111" textLength="6.20" lengthAdjust="spacingAndGlyphs">0</text>
<line x1="134.50" y1="202.68" x2="136.20" y2="202.68" stroke="#555" stroke-width="0.9"/>
<text x="134.80" y="206.48" font-size="11.8" text-anchor="end" font-weight="normal" fill="#111" textLength="6.20" lengthAdjust="spacingAndGlyphs">2</text>
<line x1="134.50" y1="192.16" x2="136.20" y2="192.16" stroke="#555" stroke-width="0.9"/>
<text x="134.80" y="195.96" font-size="11.8" text-anchor="end" font-weight="normal" fill="#111" textLength="6.20" lengthAdjust="spacingAndGlyphs">4</text>
<line x1="134.50" y1="181.64" x2="136.20" y2="181.64" stroke="#555" stroke-width="0.9"/>
<text x="134.80" y="185.44" font-size="11.8" text-anchor="end" font-weight="normal" fill="#111" textLength="6.20" lengthAdjust="spacingAndGlyphs">6</text>
<line x1="134.50" y1="171.12" x2="136.20" y2="171.12" stroke="#555" stroke-width="0.9"/>
<text x="134.80" y="174.92" font-size="11.8" text-anchor="end" font-weight="normal" fill="#111" textLength="6.20" lengthAdjust="spacingAndGlyphs">8</text>
<line x1="134.50" y1="160.60" x2="136.20" y2="160.60" stroke="#555" stroke-width="0.9"/>
<text x="134.80" y="164.40" font-size="11.8" text-anchor="end" font-weight="normal" fill="#111" textLength="12.20" lengthAdjust="spacingAndGlyphs">10</text>
<text x="149.60" y="186.80" font-size="10.2" text-anchor="middle" font-weight="bold" fill="#111">*</text>
<text x="176.00" y="185.20" font-size="10.2" text-anchor="middle" font-weight="bold" fill="#111">*</text>
<text x="199.00" y="160.10" font-size="10.2" text-anchor="middle" font-weight="bold" fill="#111">*</text>
<text x="206.60" y="159.01" font-size="11.8" text-anchor="middle" font-weight="bold" fill="#111">#</text>
<text x="221.60" y="147.90" font-size="14.5" text-anchor="start" font-weight="bold" fill="#111" textLength="9.84" lengthAdjust="spacingAndGlyphs">H</text>
<text x="260.80" y="150.50" font-size="11.2" text-anchor="start" font-weight="normal" fill="#111" textLength="17.10" lengthAdjust="spacingAndGlyphs">DP</text>
<line x1="239.60" y1="159.50" x2="239.60" y2="212.60" stroke="#929292" stroke-width="1.1"/>
<line x1="238.40" y1="212.60" x2="318.40" y2="212.20" stroke="#7a7a7a" stroke-width="1"/>
<rect x="287.20" y="197.00" width="13.40" height="15.60" fill="#fff" stroke="#8a8a8a" stroke-width="0.7"/>
<line x1="253.70" y1="194.40" x2="253.70" y2="193.40" stroke="#b8b8b8" stroke-width="0.75"/>
<line x1="250.10" y1="193.40" x2="257.30" y2="193.40" stroke="#b8b8b8" stroke-width="0.75"/>
<rect x="247.00" y="194.40" width="13.40" height="18.20" fill="#6e6e6e" stroke="#2b2b2b" stroke-width="0.65"/>
<rect x="260.40" y="198.40" width="13.40" height="14.20" fill="url(#xh)" stroke="#2b2b2b" stroke-width="0.65"/>
<line x1="280.50" y1="186.40" x2="280.50" y2="184.40" stroke="#b8b8b8" stroke-width="0.75"/>
<line x1="276.90" y1="184.40" x2="284.10" y2="184.40" stroke="#b8b8b8" stroke-width="0.75"/>
<clipPath id="c8"><rect x="273.80" y="186.40" width="13.40" height="26.20"/></clipPath>
<rect x="273.80" y="186.40" width="13.40" height="26.20" fill="#fff"/>
<path d="M252.00 212.60L271.04 186.40M254.40 212.60L273.44 186.40M256.80 212.60L275.84 186.40M259.20 212.60L278.24 186.40M261.60 212.60L280.64 186.40M264.00 212.60L283.04 186.40M266.40 212.60L285.44 186.40M268.80 212.60L287.84 186.40M271.20 212.60L290.24 186.40M273.60 212.60L292.64 186.40M276.00 212.60L295.04 186.40M278.40 212.60L297.44 186.40M280.80 212.60L299.84 186.40M283.20 212.60L302.24 186.40M285.60 212.60L304.64 186.40M288.00 212.60L307.04 186.40" stroke="#2a2a2a" stroke-width="0.95" fill="none" clip-path="url(#c8)"/>
<rect x="273.80" y="186.40" width="13.40" height="26.20" fill="none" stroke="#2b2b2b" stroke-width="0.65"/>
<line x1="307.30" y1="180.20" x2="307.30" y2="177.00" stroke="#b8b8b8" stroke-width="0.75"/>
<line x1="303.70" y1="177.00" x2="310.90" y2="177.00" stroke="#b8b8b8" stroke-width="0.75"/>
<rect x="300.60" y="180.20" width="13.40" height="32.40" fill="#000" stroke="#2b2b2b" stroke-width="0.65"/>
<line x1="237.90" y1="212.60" x2="239.60" y2="212.60" stroke="#555" stroke-width="0.9"/>
<text x="238.40" y="216.40" font-size="11.8" text-anchor="end" font-weight="normal" fill="#111" textLength="6.20" lengthAdjust="spacingAndGlyphs">0</text>
<line x1="237.90" y1="199.45" x2="239.60" y2="199.45" stroke="#555" stroke-width="0.9"/>
<text x="238.40" y="203.25" font-size="11.8" text-anchor="end" font-weight="normal" fill="#111" textLength="12.20" lengthAdjust="spacingAndGlyphs">50</text>
<line x1="237.90" y1="186.30" x2="239.60" y2="186.30" stroke="#555" stroke-width="0.9"/>
<text x="238.40" y="190.10" font-size="11.8" text-anchor="end" font-weight="normal" fill="#111" textLength="18.20" lengthAdjust="spacingAndGlyphs">100</text>
<line x1="237.90" y1="173.15" x2="239.60" y2="173.15" stroke="#555" stroke-width="0.9"/>
<text x="238.40" y="176.95" font-size="11.8" text-anchor="end" font-weight="normal" fill="#111" textLength="18.20" lengthAdjust="spacingAndGlyphs">150</text>
<line x1="237.90" y1="160.00" x2="239.60" y2="160.00" stroke="#555" stroke-width="0.9"/>
<text x="238.40" y="163.80" font-size="11.8" text-anchor="end" font-weight="normal" fill="#111" textLength="18.20" lengthAdjust="spacingAndGlyphs">200</text>
<text x="254.40" y="194.70" font-size="10.2" text-anchor="middle" font-weight="bold" fill="#111">*</text>
<text x="280.40" y="186.10" font-size="10.2" text-anchor="middle" font-weight="bold" fill="#111">*</text>
<text x="303.40" y="176.60" font-size="10.2" text-anchor="middle" font-weight="bold" fill="#111">*</text>
<text x="311.00" y="175.51" font-size="11.8" text-anchor="middle" font-weight="bold" fill="#111">#</text>
<text x="323.40" y="147.90" font-size="14.5" text-anchor="start" font-weight="bold" fill="#111" textLength="3.79" lengthAdjust="spacingAndGlyphs">I</text>
<text x="351.80" y="150.00" font-size="11.2" text-anchor="start" font-weight="normal" fill="#111" textLength="41.30" lengthAdjust="spacingAndGlyphs">CD4 SP</text>
<line x1="341.00" y1="159.50" x2="341.00" y2="212.40" stroke="#929292" stroke-width="1.1"/>
<line x1="340.40" y1="212.40" x2="420.40" y2="212.00" stroke="#7a7a7a" stroke-width="1"/>
<rect x="387.60" y="202.60" width="13.40" height="9.80" fill="#fff" stroke="#999" stroke-width="0.7"/>
<rect x="347.40" y="203.60" width="13.40" height="8.80" fill="#6e6e6e" stroke="#2b2b2b" stroke-width="0.65"/>
<rect x="360.80" y="204.60" width="13.40" height="7.80" fill="url(#xh)" stroke="#2b2b2b" stroke-width="0.65"/>
<line x1="380.90" y1="192.60" x2="380.90" y2="190.20" stroke="#b8b8b8" stroke-width="0.75"/>
<line x1="377.30" y1="190.20" x2="384.50" y2="190.20" stroke="#b8b8b8" stroke-width="0.75"/>
<clipPath id="c9"><rect x="374.20" y="192.60" width="13.40" height="19.80"/></clipPath>
<rect x="374.20" y="192.60" width="13.40" height="19.80" fill="#fff"/>
<path d="M355.20 212.40L369.59 192.60M357.60 212.40L371.99 192.60M360.00 212.40L374.39 192.60M362.40 212.40L376.79 192.60M364.80 212.40L379.19 192.60M367.20 212.40L381.59 192.60M369.60 212.40L383.99 192.60M372.00 212.40L386.39 192.60M374.40 212.40L388.79 192.60M376.80 212.40L391.19 192.60M379.20 212.40L393.59 192.60M381.60 212.40L395.99 192.60M384.00 212.40L398.39 192.60M386.40 212.40L400.79 192.60M388.80 212.40L403.19 192.60" stroke="#2a2a2a" stroke-width="0.95" fill="none" clip-path="url(#c9)"/>
<rect x="374.20" y="192.60" width="13.40" height="19.80" fill="none" stroke="#2b2b2b" stroke-width="0.65"/>
<line x1="407.70" y1="186.60" x2="407.70" y2="184.20" stroke="#b8b8b8" stroke-width="0.75"/>
<line x1="404.10" y1="184.20" x2="411.30" y2="184.20" stroke="#b8b8b8" stroke-width="0.75"/>
<rect x="401.00" y="186.60" width="13.40" height="25.80" fill="#000" stroke="#2b2b2b" stroke-width="0.65"/>
<line x1="339.30" y1="212.40" x2="341.00" y2="212.40" stroke="#555" stroke-width="0.9"/>
<text x="339.30" y="216.20" font-size="11.8" text-anchor="end" font-weight="normal" fill="#111" textLength="6.20" lengthAdjust="spacingAndGlyphs">0</text>
<line x1="339.30" y1="194.93" x2="341.00" y2="194.93" stroke="#555" stroke-width="0.9"/>
<text x="339.30" y="198.73" font-size="11.8" text-anchor="end" font-weight="normal" fill="#111" textLength="12.20" lengthAdjust="spacingAndGlyphs">10</text>
<line x1="339.30" y1="177.47" x2="341.00" y2="177.47" stroke="#555" stroke-width="0.9"/>
<text x="339.30" y="181.27" font-size="11.8" text-anchor="end" font-weight="normal" fill="#111" textLength="12.20" lengthAdjust="spacingAndGlyphs">20</text>
<line x1="339.30" y1="160.00" x2="341.00" y2="160.00" stroke="#555" stroke-width="0.9"/>
<text x="339.30" y="163.80" font-size="11.8" text-anchor="end" font-weight="normal" fill="#111" textLength="12.20" lengthAdjust="spacingAndGlyphs">30</text>
<text x="381.00" y="192.80" font-size="10.2" text-anchor="middle" font-weight="bold" fill="#111">*</text>
<text x="403.40" y="184.50" font-size="10.2" text-anchor="middle" font-weight="bold" fill="#111">*</text>
<text x="410.80" y="183.21" font-size="11.8" text-anchor="middle" font-weight="bold" fill="#111">#</text>
<text x="426.80" y="148.00" font-size="14.5" text-anchor="start" font-weight="bold" fill="#111" textLength="7.58" lengthAdjust="spacingAndGlyphs">J</text>
<text x="452.90" y="149.80" font-size="11.2" text-anchor="start" font-weight="normal" fill="#111" textLength="41.50" lengthAdjust="spacingAndGlyphs">CD8 SP</text>
<line x1="438.20" y1="158.80" x2="438.20" y2="211.60" stroke="#929292" stroke-width="1.1"/>
<line x1="437.20" y1="211.60" x2="517.20" y2="211.20" stroke="#7a7a7a" stroke-width="1"/>
<line x1="491.25" y1="195.80" x2="491.25" y2="195.00" stroke="#b8b8b8" stroke-width="0.75"/>
<line x1="487.65" y1="195.00" x2="494.85" y2="195.00" stroke="#b8b8b8" stroke-width="0.75"/>
<rect x="484.70" y="195.80" width="13.10" height="15.80" fill="#fff" stroke="#888" stroke-width="0.7"/>
<line x1="451.95" y1="191.40" x2="451.95" y2="190.40" stroke="#b8b8b8" stroke-width="0.75"/>
<line x1="448.35" y1="190.40" x2="455.55" y2="190.40" stroke="#b8b8b8" stroke-width="0.75"/>
<rect x="445.40" y="191.40" width="13.10" height="20.20" fill="#6e6e6e" stroke="#2b2b2b" stroke-width="0.65"/>
<rect x="458.50" y="200.80" width="13.10" height="10.80" fill="url(#xh)" stroke="#2b2b2b" stroke-width="0.65"/>
<line x1="478.15" y1="186.40" x2="478.15" y2="185.00" stroke="#b8b8b8" stroke-width="0.75"/>
<line x1="474.55" y1="185.00" x2="481.75" y2="185.00" stroke="#b8b8b8" stroke-width="0.75"/>
<clipPath id="c10"><rect x="471.60" y="186.40" width="13.10" height="25.20"/></clipPath>
<rect x="471.60" y="186.40" width="13.10" height="25.20" fill="#fff"/>
<path d="M448.80 211.60L467.11 186.40M451.20 211.60L469.51 186.40M453.60 211.60L471.91 186.40M456.00 211.60L474.31 186.40M458.40 211.60L476.71 186.40M460.80 211.60L479.11 186.40M463.20 211.60L481.51 186.40M465.60 211.60L483.91 186.40M468.00 211.60L486.31 186.40M470.40 211.60L488.71 186.40M472.80 211.60L491.11 186.40M475.20 211.60L493.51 186.40M477.60 211.60L495.91 186.40M480.00 211.60L498.31 186.40M482.40 211.60L500.71 186.40M484.80 211.60L503.11 186.40" stroke="#2a2a2a" stroke-width="0.95" fill="none" clip-path="url(#c10)"/>
<rect x="471.60" y="186.40" width="13.10" height="25.20" fill="none" stroke="#2b2b2b" stroke-width="0.65"/>
<line x1="504.35" y1="172.40" x2="504.35" y2="167.40" stroke="#b8b8b8" stroke-width="0.75"/>
<line x1="500.75" y1="167.40" x2="507.95" y2="167.40" stroke="#b8b8b8" stroke-width="0.75"/>
<rect x="497.80" y="172.40" width="13.10" height="39.20" fill="#000" stroke="#2b2b2b" stroke-width="0.65"/>
<line x1="436.50" y1="211.60" x2="438.20" y2="211.60" stroke="#555" stroke-width="0.9"/>
<text x="436.80" y="215.40" font-size="11.8" text-anchor="end" font-weight="normal" fill="#111" textLength="6.20" lengthAdjust="spacingAndGlyphs">0</text>
<line x1="436.50" y1="201.14" x2="438.20" y2="201.14" stroke="#555" stroke-width="0.9"/>
<text x="436.80" y="204.94" font-size="11.8" text-anchor="end" font-weight="normal" fill="#111" textLength="6.20" lengthAdjust="spacingAndGlyphs">1</text>
<line x1="436.50" y1="190.68" x2="438.20" y2="190.68" stroke="#555" stroke-width="0.9"/>
<text x="436.80" y="194.48" font-size="11.8" text-anchor="end" font-weight="normal" fill="#111" textLength="6.20" lengthAdjust="spacingAndGlyphs">2</text>
<line x1="436.50" y1="180.22" x2="438.20" y2="180.22" stroke="#555" stroke-width="0.9"/>
<text x="436.80" y="184.02" font-size="11.8" text-anchor="end" font-weight="normal" fill="#111" textLength="6.20" lengthAdjust="spacingAndGlyphs">3</text>
<line x1="436.50" y1="169.76" x2="438.20" y2="169.76" stroke="#555" stroke-width="0.9"/>
<text x="436.80" y="173.56" font-size="11.8" text-anchor="end" font-weight="normal" fill="#111" textLength="6.20" lengthAdjust="spacingAndGlyphs">4</text>
<line x1="436.50" y1="159.30" x2="438.20" y2="159.30" stroke="#555" stroke-width="0.9"/>
<text x="436.80" y="163.10" font-size="11.8" text-anchor="end" font-weight="normal" fill="#111" textLength="6.20" lengthAdjust="spacingAndGlyphs">5</text>
<text x="452.40" y="191.70" font-size="10.2" text-anchor="middle" font-weight="bold" fill="#111">*</text>
<text x="478.40" y="187.10" font-size="10.2" text-anchor="middle" font-weight="bold" fill="#111">*</text>
<text x="491.80" y="196.40" font-size="10.2" text-anchor="middle" font-weight="bold" fill="#111">*</text>
<text x="501.00" y="168.40" font-size="10.2" text-anchor="middle" font-weight="bold" fill="#111">*</text>
<text x="508.40" y="167.01" font-size="11.8" text-anchor="middle" font-weight="bold" fill="#111">#</text>
<rect x="16.40" y="230.30" width="7.50" height="13.20" fill="#737373" stroke="#4a4a4a" stroke-width="0.7"/>
<text x="24.90" y="241.40" font-size="13.6" text-anchor="start" font-weight="normal" fill="#111" textLength="92.60" lengthAdjust="spacingAndGlyphs">nonBMT Control</text>
<rect x="142.40" y="230.10" width="8.00" height="13.40" fill="url(#xh2)" stroke="#4a4a4a" stroke-width="0.7"/>
<text x="151.20" y="240.90" font-size="13.6" text-anchor="start" font-weight="normal" fill="#111" textLength="73.30" lengthAdjust="spacingAndGlyphs">BMT Control</text>
<clipPath id="c11"><rect x="260.20" y="229.10" width="8.60" height="13.20"/></clipPath>
<rect x="260.20" y="229.10" width="8.60" height="13.20" fill="#fff"/>
<path d="M247.20 242.30L256.79 229.10M249.60 242.30L259.19 229.10M252.00 242.30L261.59 229.10M254.40 242.30L263.99 229.10M256.80 242.30L266.39 229.10M259.20 242.30L268.79 229.10M261.60 242.30L271.19 229.10M264.00 242.30L273.59 229.10M266.40 242.30L275.99 229.10M268.80 242.30L278.39 229.10M271.20 242.30L280.79 229.10" stroke="#2a2a2a" stroke-width="0.95" fill="none" clip-path="url(#c11)"/>
<rect x="260.20" y="229.10" width="8.60" height="13.20" fill="none" stroke="#2b2b2b" stroke-width="0.65"/>
<text x="269.20" y="239.80" font-size="13.6" text-anchor="start" font-weight="normal" fill="#111" textLength="25.30" lengthAdjust="spacingAndGlyphs">KGF</text>
<rect x="352.60" y="227.60" width="8.10" height="13.90" fill="#fff" stroke="#777" stroke-width="0.7"/>
<text x="361.40" y="238.90" font-size="13.6" text-anchor="start" font-weight="normal" fill="#111" textLength="24.80" lengthAdjust="spacingAndGlyphs">PFT</text>
<rect x="441.20" y="228.30" width="7.80" height="13.20" fill="#000" stroke="#4a4a4a" stroke-width="0.7"/>
<text x="449.80" y="238.50" font-size="13.6" text-anchor="start" font-weight="normal" fill="#111" textLength="57.70" lengthAdjust="spacingAndGlyphs">KGF+PFT</text>
</svg></body></html>
